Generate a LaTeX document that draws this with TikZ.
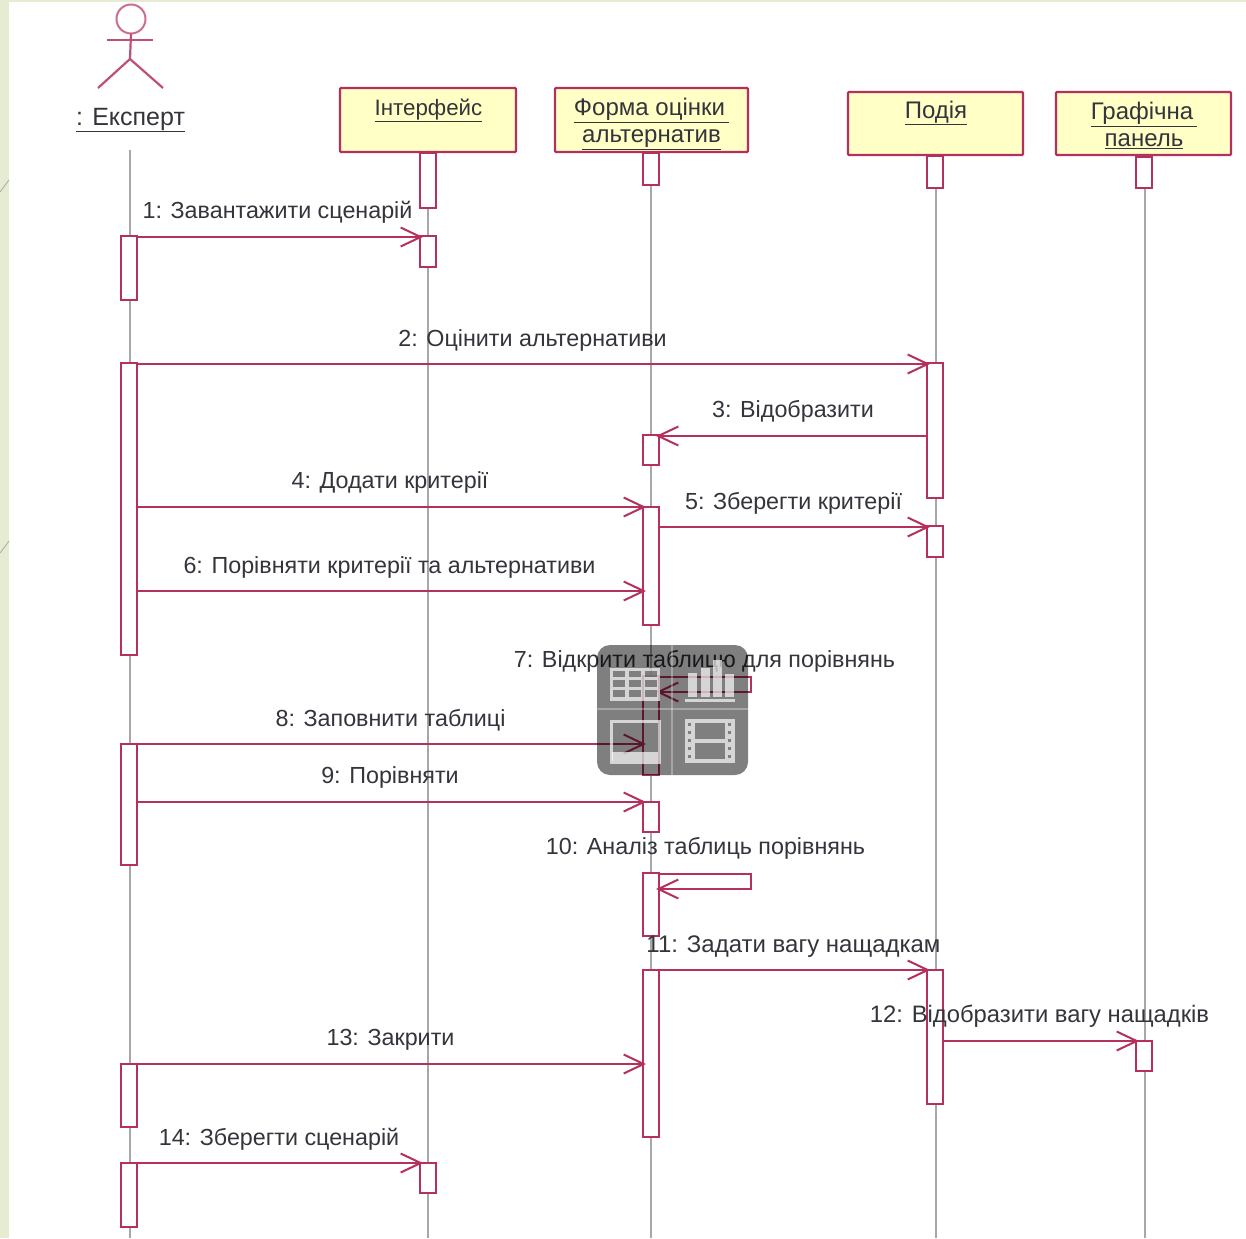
\documentclass[tikz,border=0pt]{standalone}
\usepackage{fontspec}
\setmainfont{Liberation Sans}
\usetikzlibrary{arrows.meta}
\definecolor{umlred}{HTML}{B5305F}
\definecolor{umlyel}{HTML}{FFFFC6}
\definecolor{lifegr}{HTML}{A8A8A8}
\definecolor{txtgr}{HTML}{34343C}
\definecolor{bandgr}{HTML}{E5ECD2}
\tikzset{
  lifeline/.style={draw=lifegr,line width=2pt},
  actbox/.style={draw=umlred,fill=white,line width=2pt,minimum width=16pt,inner sep=0pt,outer sep=0pt},
  headbox/.style={draw=umlred,fill=umlyel,line width=2.4pt,inner sep=0pt,outer sep=0pt,rounded corners=1pt},
  msg/.style={draw=umlred,line width=2pt,shorten >=-3pt,-{Straight Barb[length=20pt,width=19pt,line width=2pt]}},
  lbl/.style={text=txtgr,font=\fontsize{23.3}{28}\selectfont,inner sep=0pt},
  hdr/.style={text=txtgr,font=\fontsize{24}{27}\selectfont,inner sep=0pt,align=center},
  actorline/.style={draw=umlred!85,line width=2.2pt},
  iconpart/.style={fill=white,fill opacity=.68,draw=none},
  iconline/.style={draw=white,draw opacity=.68,line width=3pt},
  iconhole/.style={fill=black,fill opacity=.4,draw=none}
}
\newcommand{\act}[4]{\node[actbox,minimum height=#4pt-#3pt] (#1) at (#2,{(#3+#4)/2}) {};}
\newcommand{\msgline}[3]{\draw[msg] (#1.east |- 0,#3) -- (#2.west |- 0,#3);}
\newcommand{\msgleft}[3]{\draw[msg] (#1.west |- 0,#3) -- (#2.east |- 0,#3);}
\begin{document}
\begin{tikzpicture}[x=1pt,y=-1pt]
\useasboundingbox (0,0) rectangle (1246,1238);
\fill[white] (0,0) rectangle (1246,1238);
\fill[bandgr] (0,0) rectangle (9,1238);
\fill[bandgr] (0,0) rectangle (1246,2);
\draw[lifegr,line width=.8pt] (0,192) -- (9,180);
\draw[lifegr,line width=.8pt] (0,553) -- (9,541);
% lifelines
\coordinate (eT) at (129.5,150); \coordinate (eB) at (129.5,1238);
\coordinate (iT) at (428,152); \coordinate (iB) at (428,1238);
\coordinate (fT) at (651,152); \coordinate (fB) at (651,1238);
\coordinate (pT) at (935.5,155); \coordinate (pB) at (935.5,1238);
\coordinate (gT) at (1144.5,155); \coordinate (gB) at (1144.5,1238);
\draw[lifeline] (eT) -- (eB);
\draw[lifeline] (iT) -- (iB);
\draw[lifeline] (fT) -- (fB);
\draw[lifeline] (pT) -- (pB);
\draw[lifeline] (gT) -- (gB);
% actor
\node[draw=umlred!70,line width=2pt,circle,minimum size=29pt,inner sep=0pt,outer sep=0pt] (head) at (131,19) {};
\coordinate (hip) at (130,59);
\coordinate (armL) at (107,40); \coordinate (armR) at (153,40);
\coordinate (legL) at (98,88); \coordinate (legR) at (163,88);
\draw[actorline] (head.south) -- (hip);
\draw[actorline] (armL) -- (armR);
\draw[actorline] (legL) -- (hip) -- (legR);
\node[hdr,font=\fontsize{25}{27}\selectfont] (expert) at (130.5,120) {\underline{: Експерт}};
% headers
\node[headbox,minimum width=176pt,minimum height=64pt] (hI) at (428,120) {};
\node[headbox,minimum width=193pt,minimum height=64pt] (hF) at (651.5,120) {};
\node[headbox,minimum width=175pt,minimum height=63pt] (hP) at (935.5,123.5) {};
\node[headbox,minimum width=175pt,minimum height=63pt] (hG) at (1143.5,123.5) {};
\node[hdr,font=\fontsize{22.3}{27}\selectfont] (tI) at (428.5,110.5) {\underline{Інтерфейс}};
\node[hdr] (tF) at (651.5,124) {\underline{Форма оцінки\,}\\[0pt]\underline{альтернатив}};
\node[hdr] (tP) at (936,113) {\underline{Подія}};
\node[hdr] (tG) at (1144,125.5) {\underline{Графічна\,}\\[0pt]\underline{панель}};
% activations
\act{e1}{129}{236}{300}
\act{e2}{129}{363}{655}
\act{e3}{129}{744}{865}
\act{e4}{129}{1064}{1127}
\act{e5}{129}{1163}{1227}
\act{i0}{428}{153}{208}
\act{i1}{428}{236}{267}
\act{i2}{428}{1163}{1193}
\act{f0}{651}{153}{185}
\act{f1}{651}{435}{465}
\act{f2}{651}{507}{625}
\act{f3}{651}{676}{775}
\act{f4}{651}{802}{832}
\act{f5}{651}{873}{936}
\act{f6}{651}{970}{1137}
\act{p0}{935}{156}{188}
\act{p1}{935}{363}{498}
\act{p2}{935}{526}{557}
\act{p3}{935}{970}{1104}
\act{g0}{1144}{157}{188}
\act{g1}{1144}{1041}{1071}
% messages
\msgline{e1}{i1}{237}
\msgline{e2}{p1}{364}
\msgleft{p1}{f1}{436}
\msgline{e2}{f2}{507}
\msgline{f2}{p2}{527}
\msgline{e2}{f2}{591}
\draw[msg] (f3.east |- 0,677) -- (751,677) -- (751,692) -- (f3.east |- 0,692);
\msgline{e3}{f3}{744}
\msgline{e3}{f4}{802}
\draw[msg] (f5.east |- 0,874) -- (751,874) -- (751,889) -- (f5.east |- 0,889);
\msgline{f6}{p3}{970}
\msgline{p3}{g1}{1041}
\msgline{e4}{f6}{1064}
\msgline{e5}{i2}{1163}
% labels
\node[lbl] (m1) at (277.5,212) {1: Завантажити сценарій};
\node[lbl] (m2) at (532.5,340) {2: Оцінити альтернативи};
\node[lbl] (m3) at (793,411) {3: Відобразити};
\node[lbl] (m4) at (390,482) {4: Додати критерії};
\node[lbl] (m5) at (793.5,503) {5: Зберегти критерії};
\node[lbl] (m6) at (389.5,567) {6: Порівняти критерії та альтернативи};
\node[lbl] (m7) at (704.5,661) {7: Відкрити таблицю для порівнянь};
\node[lbl] (m8) at (390.5,720) {8: Заповнити таблиці};
\node[lbl] (m9) at (390,777) {9: Порівняти};
\node[lbl] (m10) at (705.5,848) {10: Аналіз таблиць порівнянь};
\node[lbl,font=\fontsize{24}{28}\selectfont] (m11) at (793.5,947) {11: Задати вагу нащадкам};
\node[lbl,font=\fontsize{23.8}{28}\selectfont] (m12) at (1039.5,1016) {12: Відобразити вагу нащадків};
\node[lbl] (m13) at (390.5,1040) {13: Закрити};
\node[lbl] (m14) at (279,1139) {14: Зберегти сценарій};
% media overlay
\fill[black,fill opacity=.5,rounded corners=13pt] (597,645) rectangle (748,775);
\draw[white,opacity=.3,line width=1.2pt] (672,645) -- (672,775);
\draw[white,opacity=.3,line width=1.2pt] (597,709) -- (748,709);
% table icon
\fill[iconpart] (610,668) rectangle (660,701);
\foreach \xx in {613,629,645} \foreach \yy in {680,690}
  {\fill[iconhole] (\xx,\yy) rectangle ++(12,7);}
\foreach \xx in {613,629,645} {\fill[iconhole] (\xx,671) rectangle ++(12,6);}
% bar icon
\fill[iconpart] (688,673) rectangle (697,697);
\fill[iconpart] (701,668) rectangle (710,697);
\fill[iconpart] (713,660) rectangle (722,697);
\fill[iconpart] (725,674) rectangle (734,697);
\draw[iconline] (685,700) -- (735,700);
% picture icon
\draw[iconline] (611,721) rectangle (659,762);
\fill[iconpart] (612,752) rectangle (658,761);
% film icon
\fill[iconpart] (685,719) rectangle (735,763);
\foreach \yy in {723,731,739,747,755} {
  \fill[iconhole] (688,\yy) rectangle ++(3,3);
  \fill[iconhole] (728,\yy) rectangle ++(3,3);}
\fill[iconhole] (695,723) rectangle (725,739);
\fill[iconhole] (695,743) rectangle (725,759);
\end{tikzpicture}
\end{document}
